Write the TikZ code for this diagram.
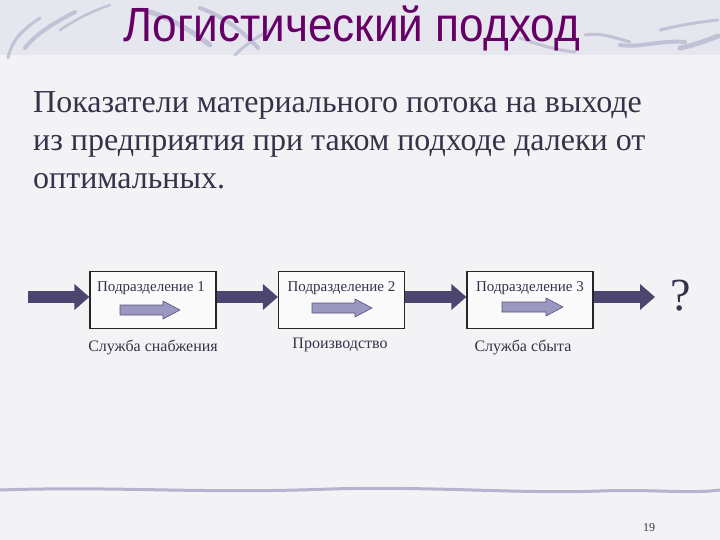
\documentclass[tikz,border=0pt]{standalone}
\usepackage{fontspec}
\setmainfont{Liberation Serif}
\newfontfamily\titlefont{Liberation Sans}
\usetikzlibrary{arrows.meta}
\definecolor{bgc}{HTML}{F3F3F5}
\definecolor{bandc}{HTML}{E6E6EF}
\definecolor{swc}{HTML}{B4B4CC}
\definecolor{titlec}{HTML}{660066}
\definecolor{txtc}{HTML}{33334A}
\definecolor{darkarr}{HTML}{4A4670}
\definecolor{lightarr}{HTML}{9A98C0}
\definecolor{lightline}{HTML}{55537A}
\tikzset{
  unitbox/.style={draw=black!85, line width=1.2pt, fill=white!60!bgc, minimum width=126pt, minimum height=57pt, inner sep=0pt},
  flowarrow/.style={draw=darkarr, line width=12pt, -{Triangle[length=15pt,width=25pt]}},
  lbl/.style={font=\fontsize{15}{17}\selectfont, text=txtc, inner sep=0pt},
  captext/.style={font=\fontsize{16}{18}\selectfont, text=txtc, inner sep=0pt},
  bodyline/.style={font=\fontsize{32}{38}\selectfont, text=txtc, anchor=base west, inner sep=0pt},
  inarrow/.style={fill=lightarr, draw=lightline, line width=0.6pt},
  swoosh/.style={draw=swc, line cap=round, opacity=0.7},
}
\begin{document}
\begin{tikzpicture}[x=1pt,y=-1pt]
\useasboundingbox (0,0) rectangle (720,540);
% background
\fill[bgc] (0,0) rectangle (720,540);
\fill[bandc] (0,0) rectangle (720,55);
% swooshes top-left
\draw[swoosh, line width=3pt] (8,58) .. controls (12,40) and (22,30) .. (40,18);
\draw[swoosh, line width=4pt] (25,48) .. controls (35,35) and (50,25) .. (75,12);
\draw[swoosh, line width=2.5pt] (60,30) .. controls (75,20) and (90,12) .. (110,5);
\draw[swoosh, line width=5pt] (150,12) .. controls (170,18) and (190,30) .. (210,45);
\draw[swoosh, line width=4pt] (200,8) .. controls (220,15) and (240,28) .. (258,48);
\draw[swoosh, line width=3pt] (235,55) .. controls (245,45) and (255,38) .. (270,30);
\draw[swoosh, line width=3pt] (520,38) .. controls (540,45) and (555,50) .. (575,52);
% swooshes top-right
\draw[swoosh, line width=3pt] (585,35) .. controls (600,32) and (615,38) .. (630,42);
\draw[swoosh, line width=4pt] (620,45) .. controls (640,48) and (660,40) .. (685,42);
\draw[swoosh, line width=3pt] (660,30) .. controls (680,25) and (700,22) .. (718,20);
\draw[swoosh, line width=5pt] (680,48) .. controls (695,45) and (708,40) .. (718,36);
% bottom line
\draw[swc, line width=3pt, line cap=round] (0,490) .. controls (120,486) and (200,494) .. (330,489) .. controls (430,486) and (520,494) .. (600,491) .. controls (650,489) and (690,494) .. (720,490);
% title
\node[font=\titlefont\fontsize{48}{50}\selectfont, text=titlec, xscale=0.92, inner sep=0pt, anchor=base] (title) at (352,42) {Логистический подход};
% body
\node[bodyline] (body1) at (33,113) {Показатели материального потока на выходе};
\node[bodyline] (body2) at (33,151) {из предприятия при таком подходе далеки от};
\node[bodyline] (body3) at (33,189) {оптимальных.};
% boxes
\node[unitbox] (b1) at (153,300) {};
\node[unitbox] (b2) at (341.5,300) {};
\node[unitbox] (b3) at (530,300) {};
\node[lbl, anchor=base] (l1) at (151,291) {Подразделение 1};
\node[lbl, anchor=base] (l2) at (341.5,291) {Подразделение 2};
\node[lbl, anchor=base] (l3) at (530,291) {Подразделение 3};
% inner arrows
\draw[inarrow] (120,305) -- (163,305) -- (163,301) -- (180,310) -- (163,319) -- (163,315) -- (120,315) -- cycle;
\draw[inarrow] (312,303) -- (355,303) -- (355,299) -- (372,308) -- (355,317) -- (355,313) -- (312,313) -- cycle;
\draw[inarrow] (502,302) -- (546,302) -- (546,298) -- (563,307) -- (546,316) -- (546,312) -- (502,312) -- cycle;
% captions
\node[captext, anchor=base] (c1) at (153,351) {Служба снабжения};
\node[captext, anchor=base] (c2) at (340,348) {Производство};
\node[captext, anchor=base] (c3) at (523,351) {Служба сбыта};
% flow arrows
\coordinate (start) at (28,297);
\coordinate (end) at (655,297);
\draw[flowarrow] (start) -- (b1.west |- start);
\draw[flowarrow] (b1.east |- start) -- (b2.west |- start);
\draw[flowarrow] (b2.east |- start) -- (b3.west |- start);
\draw[flowarrow] (b3.east |- start) -- (end);
\node[font=\fontsize{46}{48}\selectfont, text=txtc, anchor=base, inner sep=0pt] (q) at (681,310) {?};
% page number
\node[font=\fontsize{12}{14}\selectfont, text=txtc, anchor=base, inner sep=0pt] (pg) at (649,531) {19};
\end{tikzpicture}
\end{document}
